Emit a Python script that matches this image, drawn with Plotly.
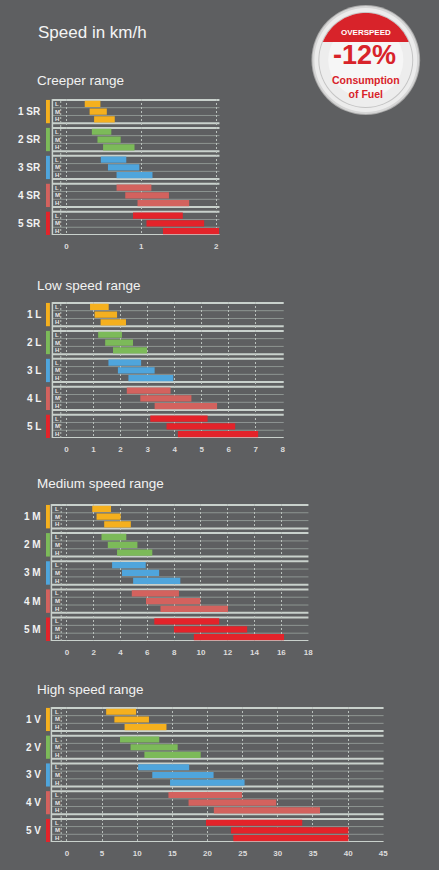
import math
import plotly.graph_objects as go

W, H = 439, 870
BG = "#5e5f61"
FONT = "Liberation Sans, Arial, sans-serif"

# ---------------- data ----------------
row_names = ["L", "M", "H"]
group_colors = ["#f5b01e", "#7cba59", "#4fa5dc", "#d3625e", "#e3232a"]

creeper_labels = ["1 SR", "2 SR", "3 SR", "4 SR", "5 SR"]
creeper_start = [[0.245, 0.31, 0.37], [0.34, 0.415, 0.49], [0.46, 0.555, 0.67],
                 [0.67, 0.786, 0.95], [0.89, 1.07, 1.29]]
creeper_end = [[0.454, 0.54, 0.646], [0.60, 0.725, 0.91], [0.80, 0.974, 1.15],
               [1.135, 1.37, 1.64], [1.555, 1.84, 2.04]]
creeper_ticks = [0, 1, 2]

low_labels = ["1 L", "2 L", "3 L", "4 L", "5 L"]
low_start = [[0.87, 1.04, 1.26], [1.17, 1.43, 1.72], [1.55, 1.90, 2.29],
             [2.23, 2.73, 3.26], [3.10, 3.70, 4.12]]
low_end = [[1.56, 1.87, 2.20], [2.05, 2.46, 2.98], [2.76, 3.26, 3.95],
           [3.85, 4.62, 5.57], [5.22, 6.24, 7.09]]
low_ticks = [0, 1, 2, 3, 4, 5, 6, 7, 8]

medium_labels = ["1 M", "2 M", "3 M", "4 M", "5 M"]
medium_start = [[1.89, 2.21, 2.78], [2.58, 3.05, 3.74], [3.37, 4.11, 4.94],
                [4.84, 5.90, 6.98], [6.52, 7.99, 9.47]]
medium_end = [[3.29, 4.01, 4.77], [4.43, 5.26, 6.37], [5.88, 6.88, 8.46],
              [8.36, 9.96, 12.02], [11.36, 13.45, 16.2]]
medium_ticks = [0, 2, 4, 6, 8, 10, 12, 14, 16, 18]

high_labels = ["1 V", "2 V", "3 V", "4 V", "5 V"]
high_start = [[5.58, 6.75, 8.2], [7.55, 9.05, 11.02], [10.13, 12.14, 14.67],
              [14.44, 17.3, 20.9], [19.78, 23.34, 23.67]]
high_end = [[9.84, 11.67, 14.16], [13.13, 15.75, 19.03], [17.39, 20.86, 25.27],
            [24.89, 29.77, 36.0], [33.47, 40.03, 40.03]]
high_ticks = [0, 5, 10, 15, 20, 25, 30, 35, 40, 45]

panel_titles = ["Creeper range", "Low speed range", "Medium speed range", "High speed range"]

# ---------------- layout geometry (pixels) ----------------
panels = [
    dict(title=panel_titles[0], labels=creeper_labels, start=creeper_start, end=creeper_end,
         ticks=creeper_ticks, frame=(53, 222, 99, 235), zero_px=67.3, last_px=220.0, title_y=81),
    dict(title=panel_titles[1], labels=low_labels, start=low_start, end=low_end,
         ticks=low_ticks, frame=(53, 287, 302, 438), zero_px=67.3, last_px=286.0, title_y=285),
    dict(title=panel_titles[2], labels=medium_labels, start=medium_start, end=medium_end,
         ticks=medium_ticks, frame=(52, 312, 504, 641), zero_px=67.7, last_px=311.7, title_y=484),
    dict(title=panel_titles[3], labels=high_labels, start=high_start, end=high_end,
         ticks=high_ticks, frame=(52, 388, 707, 842), zero_px=67.7, last_px=387.7, title_y=689),
]

GSTEP = 3.6
Y_RANGE = [16.9, -0.62]


def px(x):
    return x / W


def py(y):
    return 1 - y / H


fig = go.Figure()
shapes = []
annotations = []

LIGHT = "#c9d1cc"
SEP = "#8e9592"
GRID = "#b9c0bc"

for i, p in enumerate(panels):
    n = "" if i == 0 else str(i + 1)
    xa, ya = "x" + n, "y" + n
    left, right, top, bottom = p["frame"]
    t0, t1 = p["ticks"][0], p["ticks"][-1]
    ppu = (p["last_px"] - p["zero_px"]) / (t1 - t0)
    r0 = (left - p["zero_px"]) / ppu
    r1 = (right - p["zero_px"]) / ppu
    if i == 0:
        r1 = max(r1, 2.045)

    for g in range(5):
        ys = [g * GSTEP + r for r in range(3)]
        fig.add_trace(go.Bar(
            x=[e - s for s, e in zip(p["start"][g], p["end"][g])],
            base=p["start"][g],
            y=ys,
            orientation="h",
            width=0.8,
            marker=dict(color=group_colors[g], line=dict(width=0)),
            xaxis=xa, yaxis=ya,
            hoverinfo="skip",
            cliponaxis=False,
        ))

        # horizontal frame lines
        for yy, col, wd in [(g * GSTEP - 0.5, LIGHT, 2), (g * GSTEP + 2.5, LIGHT, 2),
                            (g * GSTEP + 0.5, SEP, 1), (g * GSTEP + 1.5, SEP, 1)]:
            shapes.append(dict(type="line", xref=xa + " domain", yref=ya,
                               x0=0, x1=1, y0=yy, y1=yy, layer="below",
                               line=dict(color=col, width=wd)))
        # coloured group marker
        shapes.append(dict(type="rect", xref="paper", yref=ya,
                           x0=px(46.5), x1=px(50.5), y0=g * GSTEP - 0.5, y1=g * GSTEP + 2.5,
                           fillcolor=group_colors[g], line=dict(width=0)))
        # group label
        annotations.append(dict(text="<b>%s</b>" % p["labels"][g], xref="paper", yref=ya,
                                x=px(43), y=g * GSTEP + 1, xanchor="right", yanchor="middle",
                                showarrow=False, font=dict(size=10, color="#f2f2f2", family=FONT)))
        # row letters
        for r, rn in enumerate(row_names):
            annotations.append(dict(text="<b>%s</b>" % rn, xref="paper", yref=ya,
                                    x=px(58), y=g * GSTEP + r, xanchor="center", yanchor="middle",
                                    showarrow=False, font=dict(size=6, color="#e6e6e6", family=FONT)))

    # left solid frame line
    shapes.append(dict(type="line", xref=xa + " domain", yref=ya, x0=0, x1=0,
                       y0=-0.6, y1=4 * GSTEP + 2.5, layer="below",
                       line=dict(color=LIGHT, width=1.5)))
    # extra dashed line left of zero
    xd = -5.8 / ppu
    shapes.append(dict(type="line", xref=xa, yref=ya + " domain", x0=xd, x1=xd, y0=0, y1=1,
                       layer="below", line=dict(color=GRID, width=1, dash="2px,2px")))

    # panel title
    annotations.append(dict(text=p["title"], xref="paper", yref="paper", x=px(35), y=py(p["title_y"]),
                            xanchor="left", yanchor="middle", showarrow=False,
                            font=dict(size=13.5, color="#f2f2f2", family=FONT)))

    fig.layout["xaxis" + n] = dict(
        domain=[px(left), px(right)], anchor=ya, range=[r0, r1],
        tickvals=p["ticks"], ticktext=["<b>%g</b>" % v for v in p["ticks"]],
        showgrid=True, gridcolor=GRID, gridwidth=1, griddash="2px,2px",
        zeroline=False, showline=False, ticks="outside", ticklen=3, tickcolor="rgba(0,0,0,0)",
        tickfont=dict(size=8, color="#dcdcdc", family=FONT), fixedrange=True,
    )
    fig.layout["yaxis" + n] = dict(
        domain=[py(bottom), py(top)], anchor=xa, range=Y_RANGE,
        showgrid=False, zeroline=False, showticklabels=False, ticks="", fixedrange=True,
    )

# main title
annotations.append(dict(text="Speed in km/h", xref="paper", yref="paper", x=px(36), y=py(32),
                        xanchor="left", yanchor="middle", showarrow=False,
                        font=dict(size=17, color="#f4f4f4", family=FONT)))

# ---------------- badge ----------------
cx, cy = 370, 60


def circle(r, color):
    return dict(type="circle", xref="paper", yref="paper",
                x0=px(cx - r), x1=px(cx + r), y0=py(cy + r), y1=py(cy - r),
                fillcolor=color, line=dict(width=0), layer="above")


shapes += [circle(55, "#a9a9a9"), circle(54, "#d6d6d6"), circle(52, "#ececec"),
           circle(48, "#c4c4c4"), circle(47, "#ededed"), circle(38, "#f6f6f6")]

# red cap: part of inner disc above y = 42 px
R = 47
ycut = 42
half = math.sqrt(R * R - (cy - ycut) ** 2)
pts = []
steps = 40
start_a = math.atan2(cy - ycut, -half)
end_a = math.atan2(cy - ycut, half)
for k in range(steps + 1):
    a = start_a + (end_a - start_a) * k / steps
    pts.append((cx + R * math.cos(a), cy - R * math.sin(a)))
path = "M " + " L ".join("%.5f,%.5f" % (px(x), py(y)) for x, y in pts) + " Z"
shapes.append(dict(type="path", xref="paper", yref="paper", path=path,
                   fillcolor="#d8232a", line=dict(width=0), layer="above"))

RED = "#d8232a"
annotations += [
    dict(text="<b>OVERSPEED</b>", xref="paper", yref="paper", x=px(cx), y=py(33),
         xanchor="center", yanchor="middle", showarrow=False,
         font=dict(size=8, color="#ffffff", family=FONT)),
    dict(text="<b>-12%</b>", xref="paper", yref="paper", x=px(cx - 1), y=py(55),
         xanchor="center", yanchor="middle", showarrow=False,
         font=dict(size=27, color=RED, family=FONT)),
    dict(text="<b>Consumption</b><br><b>of Fuel</b>", xref="paper", yref="paper", x=px(cx), y=py(87),
         xanchor="center", yanchor="middle", showarrow=False,
         font=dict(size=10.5, color=RED, family=FONT)),
]

fig.update_layout(
    width=W, height=H,
    margin=dict(l=0, r=0, t=0, b=0),
    paper_bgcolor=BG, plot_bgcolor="rgba(0,0,0,0)",
    showlegend=False, barmode="overlay", hovermode=False,
    shapes=shapes, annotations=annotations,
    font=dict(family=FONT),
)

fig.write_html("out.html", config={"displayModeBar": False},
               post_script="document.body.style.margin='0';document.body.style.overflow='hidden';")
